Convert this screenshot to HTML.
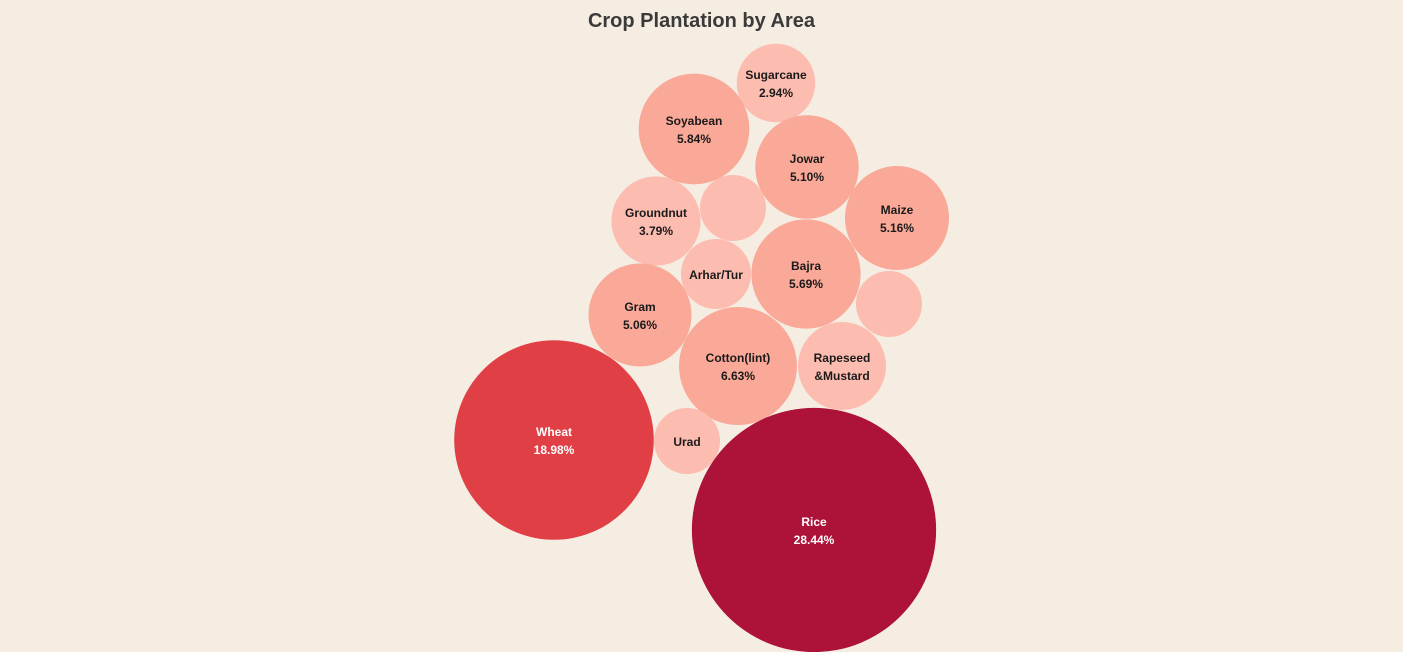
<!DOCTYPE html>
<html><head><meta charset="utf-8"><style>
html,body{margin:0;padding:0;background:#f5ede2;}
body{width:1403px;height:652px;overflow:hidden;font-family:"Liberation Sans","DejaVu Sans",sans-serif;}
#title{position:absolute;left:0;width:1403px;top:10px;text-align:center;font-size:20px;font-weight:bold;color:#3a3a3a;}
svg{position:absolute;left:0;top:0;}
</style></head><body>
<div id="title">Crop Plantation by Area</div>
<svg id="chart" width="1403" height="652"></svg>
<script>
const crops=["Sugarcane","Soyabean","Jowar","Maize","Groundnut","","Arhar/Tur","Bajra","","Gram","Cotton(lint)","Rapeseed\n&Mustard","Urad","Wheat","Rice"];
const shares=[2.94,5.84,5.10,5.16,3.79,2.08,2.34,5.69,2.08,5.06,6.63,3.69,2.08,18.98,28.44];
const showPct=[true,true,true,true,true,false,false,true,false,true,true,false,false,true,true];
// layout (packing positions)
const layoutX=[776,694,807,897,656,733,716,806,889,640,738,842,687,554,814];
const layoutY=[83,129,167,218,221,208,274,274,304,315,366,366,441,440,530];
const rScale=v=>22.9*Math.sqrt(v);
function color(v){if(v>25)return"#ad1238";if(v>10)return"#e13f46";if(v>=5)return"#faa898";return"#fdbcb0";}
const svg=document.getElementById('chart');const NS="http://www.w3.org/2000/svg";
crops.forEach((c,i)=>{
 const g=document.createElementNS(NS,'g');
 
 
 const ci=document.createElementNS(NS,'circle');
 ci.setAttribute('cx',layoutX[i]);ci.setAttribute('cy',layoutY[i]);ci.setAttribute('r',rScale(shares[i]));
 ci.setAttribute('fill',color(shares[i]));g.appendChild(ci);
 const lines=c?c.split("\n"):[];
 if(c&&showPct[i])lines.push(shares[i].toFixed(2)+"%");
 const fill=shares[i]>10?"#ffffff":"#1a1a1a";
 lines.forEach((t,k)=>{
  const tx=document.createElementNS(NS,'text');
  tx.setAttribute('x',layoutX[i]);
  tx.setAttribute('y',layoutY[i]+(k-(lines.length-1)/2)*18+5);
  tx.setAttribute('text-anchor','middle');tx.setAttribute('font-size','12');tx.setAttribute('font-weight','bold');
  tx.setAttribute('fill',fill);tx.setAttribute('font-family','Liberation Sans, sans-serif');
  tx.textContent=t;g.appendChild(tx);
 });
 svg.appendChild(g);
});
</script>
</body></html>
